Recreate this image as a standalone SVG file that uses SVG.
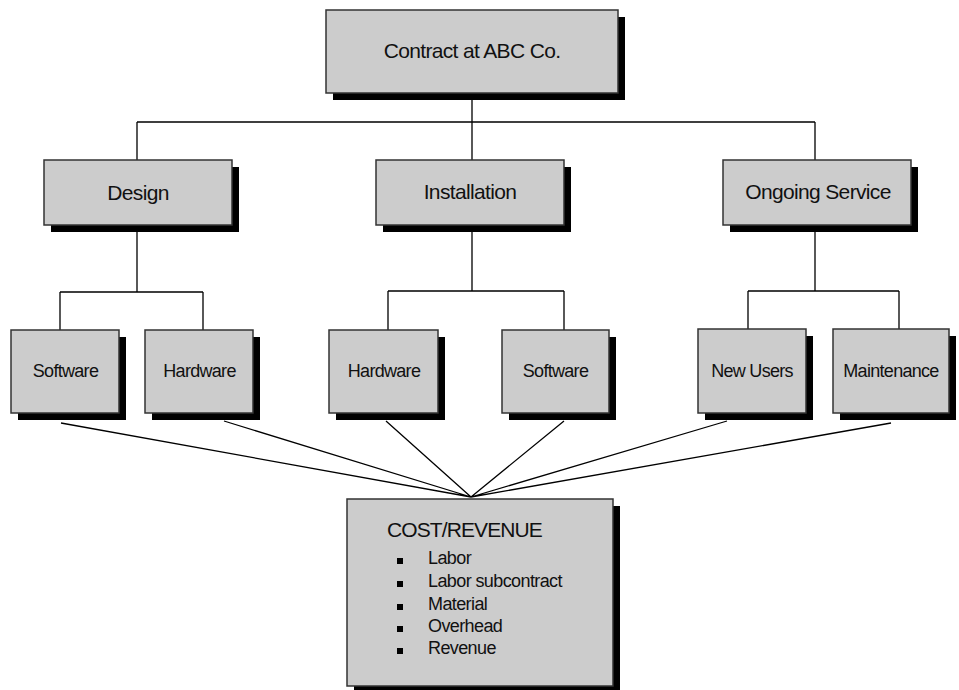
<svg xmlns="http://www.w3.org/2000/svg" width="959" height="690" viewBox="0 0 959 690">
<style>
.sh{fill:#000}
.bx{fill:#cccccc;stroke:#333333;stroke-width:1.5}
.t1{font-family:"Liberation Sans",Arial,sans-serif;font-size:21px;letter-spacing:-0.65px;fill:#111;text-anchor:middle}
.t2{font-family:"Liberation Sans",Arial,sans-serif;font-size:18px;letter-spacing:-0.7px;fill:#111;text-anchor:middle}
.t3{font-family:"Liberation Sans",Arial,sans-serif;font-size:18px;letter-spacing:-0.6px;fill:#111}
.ln{stroke:#000;stroke-width:1.3;fill:none}
</style>
<rect width="959" height="690" fill="#fff"/>
<g id="connectors">
<path class="ln" d="M472 93V122M137 122H815M137 122V161M472 122V160M815 122V160"/>
<path class="ln" d="M137 225V292M60 292H203M60 292V330M203 292V330"/>
<path class="ln" d="M472 225V291M388 291H564M388 291V330M564 291V330"/>
<path class="ln" d="M815 225V291M748 291H899M748 291V329M899 291V329"/>
<path class="ln" d="M61 423L471 497M224 421L471 497M386 421L471 497M564 421L471 497M727 421L471 497M891 423L471 497"/>
</g>
<g id="top">
<rect class="sh" x="333" y="17" width="292" height="83"/>
<rect class="bx" x="326" y="10" width="292" height="83"/>
<text class="t1" x="472" y="58">Contract at ABC Co.</text>
</g>
<g id="design">
<rect class="sh" x="51" y="167" width="188" height="65"/>
<rect class="bx" x="44" y="160" width="188" height="65"/>
<text class="t1" x="138" y="200">Design</text>
</g>
<g id="installation">
<rect class="sh" x="383" y="167" width="188" height="65"/>
<rect class="bx" x="376" y="160" width="188" height="65"/>
<text class="t1" x="470" y="199">Installation</text>
</g>
<g id="ongoing">
<rect class="sh" x="730" y="167" width="188" height="65"/>
<rect class="bx" x="723" y="160" width="188" height="65"/>
<text class="t1" x="818" y="199">Ongoing Service</text>
</g>
<g id="design-software">
<rect class="sh" x="18" y="337" width="108" height="83"/>
<rect class="bx" x="11" y="330" width="108" height="83"/>
<text class="t2" x="65.5" y="377">Software</text>
</g>
<g id="design-hardware">
<rect class="sh" x="152" y="337" width="108" height="83"/>
<rect class="bx" x="145" y="330" width="108" height="83"/>
<text class="t2" x="199.5" y="377">Hardware</text>
</g>
<g id="install-hardware">
<rect class="sh" x="336" y="337" width="109" height="83"/>
<rect class="bx" x="329" y="330" width="109" height="83"/>
<text class="t2" x="384" y="377">Hardware</text>
</g>
<g id="install-software">
<rect class="sh" x="509" y="337" width="107" height="83"/>
<rect class="bx" x="502" y="330" width="107" height="83"/>
<text class="t2" x="555.5" y="377">Software</text>
</g>
<g id="new-users">
<rect class="sh" x="705" y="336" width="108" height="84"/>
<rect class="bx" x="698" y="329" width="108" height="84"/>
<text class="t2" x="752" y="377">New Users</text>
</g>
<g id="maintenance">
<rect class="sh" x="840" y="336" width="116" height="84"/>
<rect class="bx" x="833" y="329" width="116" height="84"/>
<text class="t2" x="891" y="377">Maintenance</text>
</g>
<g id="cost-revenue">
<rect class="sh" x="354" y="506" width="266" height="187"/>
<rect class="bx" x="347" y="499" width="266" height="187"/>
<text class="t3" x="387" y="537" style="font-size:21px;letter-spacing:-0.9px">COST/REVENUE</text>
<g fill="#000">
<rect x="397" y="558" width="6" height="6"/>
<rect x="397" y="581" width="6" height="6"/>
<rect x="397" y="604" width="6" height="6"/>
<rect x="397" y="626" width="6" height="6"/>
<rect x="397" y="648" width="6" height="6"/>
</g>
<text class="t3" x="428" y="564">Labor</text>
<text class="t3" x="428" y="587">Labor subcontract</text>
<text class="t3" x="428" y="610">Material</text>
<text class="t3" x="428" y="632">Overhead</text>
<text class="t3" x="428" y="654">Revenue</text>
</g>
</svg>
